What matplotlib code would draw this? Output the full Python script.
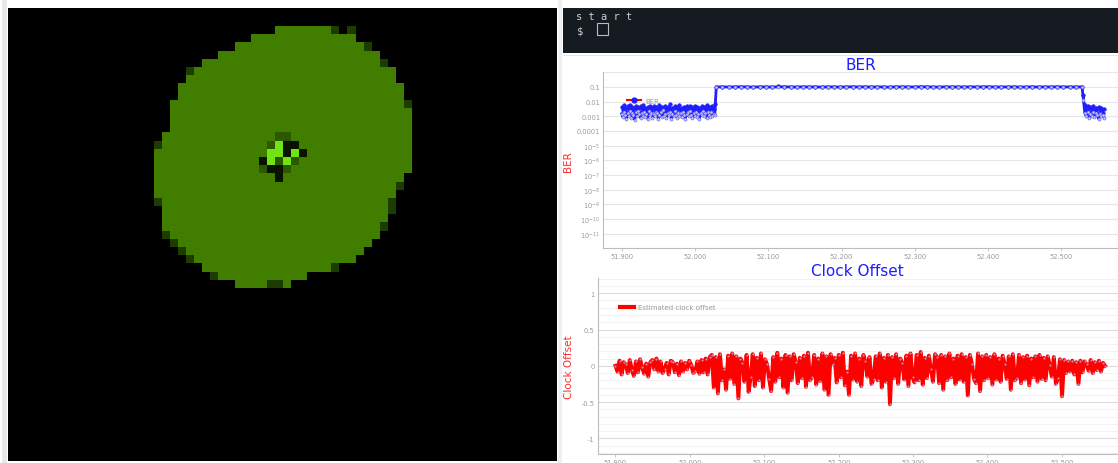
import numpy as np
import matplotlib
matplotlib.use('Agg')
import matplotlib.pyplot as plt
from matplotlib.patches import Rectangle
from matplotlib.lines import Line2D
from matplotlib.ticker import FixedLocator, FixedFormatter, MultipleLocator, NullLocator

plt.rcParams['axes.unicode_minus'] = False
W, H = 1118, 464

# ---- left panel: 32x32 pixel frame, green disk on black ----
# first and last lit column of every row, top to bottom
disk_rows = [(15, 21), (12, 24), (10, 26), (8, 27), (6, 28), (5, 29), (4, 29), (3, 30),
             (3, 30), (2, 30), (2, 31), (2, 31), (2, 31), (1, 31), (1, 31), (0, 31),
             (0, 31), (0, 31), (0, 30), (0, 30), (0, 29), (1, 29), (1, 29), (1, 28),
             (1, 28), (2, 27), (3, 26), (4, 25), (5, 24), (6, 22), (8, 18), (10, 16)]
# dim pixels on the rim (row, col)
rim_px = [(0, 22), (0, 24), (2, 26), (4, 28), (5, 4), (9, 31), (14, 0), (19, 30), (21, 0),
          (21, 29), (22, 29), (24, 28), (25, 1), (26, 2), (27, 3), (28, 4), (29, 22), (30, 7),
          (31, 14), (31, 15)]
# spot in the middle
core_bright = [(14, 15), (15, 14), (15, 15), (15, 17), (16, 14), (16, 16)]
core_black = [(14, 16), (14, 17), (15, 16), (15, 18), (16, 13), (17, 14), (17, 15), (18, 15)]
core_dim = [(13, 15), (13, 16), (14, 14), (16, 15), (16, 17), (17, 13), (17, 16)]

# ---- terminal strip ----
term_text = ['s t a r t', '$']

# ---- BER chart ----
# (start, end, number of samples) of the three stretches
ber_segments = [(51.900, 52.027, 80), (52.029, 52.528, 60), (52.530, 52.558, 16)]
ber_meas = [0.0042, 0.0026, 0.0055, 0.0019, 0.0038, 0.0047, 0.0023, 0.0061, 0.0031, 0.0044,
            0.0018, 0.0036, 0.0052, 0.0027, 0.0041, 0.0021, 0.0049, 0.0033, 0.0057, 0.0024,
            0.0039, 0.0016, 0.0045, 0.0029, 0.0053, 0.0022, 0.0037, 0.0048, 0.0025, 0.0042,
            0.0019, 0.0034, 0.0056, 0.0028, 0.0043, 0.0017, 0.0039, 0.0051, 0.0023, 0.0046,
            0.0031, 0.0064, 0.0021, 0.0038, 0.0027, 0.0049, 0.0018, 0.0042, 0.0033, 0.0055,
            0.0024, 0.0037, 0.0016, 0.0045, 0.0029, 0.0052, 0.0021, 0.0036, 0.0047, 0.0026,
            0.0041, 0.0019, 0.0054, 0.0032, 0.0044, 0.0022, 0.0038, 0.0017, 0.0049, 0.0028,
            0.0043, 0.0025, 0.0058, 0.0021, 0.0039, 0.0046, 0.0027, 0.0052, 0.0034, 0.0066,
            0.103, 0.101, 0.104, 0.102, 0.106, 0.101, 0.103, 0.102, 0.105, 0.101,
            0.108, 0.102, 0.104, 0.101, 0.105, 0.102, 0.103, 0.101, 0.104, 0.102,
            0.103, 0.105, 0.101, 0.104, 0.102, 0.106, 0.102, 0.103, 0.101, 0.104,
            0.102, 0.105, 0.101, 0.104, 0.103, 0.101, 0.105, 0.102, 0.103, 0.101,
            0.104, 0.102, 0.106, 0.101, 0.103, 0.102, 0.105, 0.101, 0.104, 0.101,
            0.103, 0.104, 0.102, 0.105, 0.101, 0.103, 0.102, 0.104, 0.101, 0.103,
            0.03, 0.006, 0.0024, 0.0048, 0.0019, 0.0041, 0.0027, 0.0052, 0.0021, 0.0038,
            0.0017, 0.0044, 0.0026, 0.0035, 0.0018, 0.0031]
ber_est = [0.0015, 0.0009, 0.0021, 0.0012, 0.0007, 0.0018, 0.0011, 0.0024, 0.0008, 0.0016,
           0.0013, 0.0006, 0.0019, 0.001, 0.0022, 0.0014, 0.0008, 0.0017, 0.0011, 0.002,
           0.0009, 0.0015, 0.0007, 0.0023, 0.0012, 0.0018, 0.0008, 0.0014, 0.001, 0.0021,
           0.0016, 0.0007, 0.0013, 0.0019, 0.0009, 0.0025, 0.0011, 0.0015, 0.0008, 0.0017,
           0.0012, 0.002, 0.0007, 0.0014, 0.001, 0.0022, 0.0013, 0.0008, 0.0018, 0.0011,
           0.0016, 0.0009, 0.0021, 0.0012, 0.0007, 0.0015, 0.0019, 0.001, 0.0024, 0.0013,
           0.0008, 0.0017, 0.0011, 0.002, 0.0009, 0.0014, 0.0007, 0.0018, 0.0012, 0.0022,
           0.001, 0.0016, 0.0008, 0.0019, 0.0013, 0.0009, 0.0021, 0.0011, 0.0015, 0.0012,
           0.1, 0.102, 0.099, 0.101, 0.103, 0.1, 0.098, 0.102, 0.101, 0.099,
           0.101, 0.103, 0.1, 0.099, 0.102, 0.1, 0.101, 0.098, 0.102, 0.1,
           0.099, 0.101, 0.103, 0.1, 0.102, 0.099, 0.101, 0.1, 0.098, 0.102,
           0.101, 0.099, 0.1, 0.103, 0.101, 0.1, 0.098, 0.102, 0.1, 0.101,
           0.099, 0.102, 0.1, 0.101, 0.103, 0.099, 0.1, 0.102, 0.101, 0.098,
           0.1, 0.102, 0.099, 0.101, 0.1, 0.103, 0.1, 0.101, 0.099, 0.102,
           0.012, 0.0016, 0.001, 0.0019, 0.0008, 0.0014, 0.0011, 0.0021, 0.0009, 0.0016,
           0.0012, 0.0007, 0.0015, 0.001, 0.0013, 0.0008]
ber_ticks = [1, 1e-1, 1e-2, 1e-3, 1e-4, 1e-5, 1e-6, 1e-7, 1e-8, 1e-9, 1e-10, 1e-11]
ber_tick_labels = ['', '0.1', '0.01', '0.001', '0.0001', r'$10^{-5}$', r'$10^{-6}$',
                   r'$10^{-7}$', r'$10^{-8}$', r'$10^{-9}$', r'$10^{-10}$', r'$10^{-11}$']

time_ticks = [51.9, 52.0, 52.1, 52.2, 52.3, 52.4, 52.5]
time_labels = ['51.900', '52.000', '52.100', '52.200', '52.300', '52.400', '52.500']

# ---- clock offset chart ----
clock_span = (51.900, 52.558)
clock_offset = [
    0.0, -0.08, 0.07, -0.12, 0.05, 0.02, -0.1, 0.08, -0.06, -0.14,
    0.06, -0.09, 0.09, -0.02, -0.11, 0.03, -0.15, 0.05, 0.08, -0.05,
    0.1, -0.08, 0.06, -0.1, -0.04, 0.04, -0.12, 0.07, 0.05, -0.09,
    0.03, -0.13, 0.06, -0.08, 0.04, -0.05, 0.07, 0.01, -0.1, -0.07,
    0.06, -0.11, 0.08, -0.09, 0.1, -0.12, 0.12,
    0.15, -0.3, 0.12, -0.38, 0.16, -0.2, -0.05, -0.33, 0.14, -0.18,
    0.17, -0.25, 0.13, -0.45, 0.1, 0.04, -0.22, 0.15, -0.36, -0.15,
    0.16, -0.28, 0.11, -0.2, 0.17, -0.3, 0.09, 0.02, -0.18, -0.35,
    0.12, -0.22, 0.18, -0.16, 0.1, -0.3, 0.15, -0.37, 0.13, -0.2,
    0.16, 0.05, -0.24, 0.11, -0.17, 0.14, -0.29, 0.18, -0.2, -0.15,
    0.15, -0.26, 0.1, -0.21, 0.17, -0.33, 0.13, -0.4, 0.16, 0.03,
    0.11, -0.23, 0.15, -0.16, 0.18, -0.27, -0.08, -0.4, 0.14, -0.19,
    0.17, -0.22, 0.1, -0.28, 0.15, 0.06, -0.15, 0.12, -0.25, -0.18,
    0.13, -0.2, 0.17, -0.3, 0.11, -0.22, 0.15, -0.53, 0.12, -0.17,
    0.16, -0.25, 0.1, 0.04, -0.19, 0.14, -0.28, 0.17, -0.16, -0.23,
    0.15, -0.2, 0.19, -0.26, 0.11, -0.17, 0.14, -0.05, -0.22, 0.16,
    0.12, -0.24, 0.15, -0.33, 0.13, -0.2, 0.17, -0.16, 0.1, -0.25,
    0.14, -0.19, 0.16, -0.22, 0.12, -0.41, 0.15, 0.03, -0.18, -0.24,
    0.17, -0.35, 0.13, -0.2, 0.15, -0.17, 0.12, -0.26, 0.16, -0.19,
    0.1, -0.22, 0.14, 0.02, -0.18, 0.13, -0.33, 0.16, -0.2, -0.17,
    0.15, -0.24, 0.12, -0.19, 0.14, -0.27, 0.1, -0.16, 0.13, -0.22,
    0.15, -0.18, 0.11, -0.2, 0.13, 0.01, -0.15, 0.12, -0.25, -0.17, 0.09,
    -0.42, 0.08, -0.1, 0.06, -0.08, 0.07, -0.12, 0.05, -0.25, 0.07,
    -0.09, 0.06, 0.02, -0.07, 0.08, -0.1, 0.05, -0.06, 0.07, -0.08, 0.04, 0.0]

GREY = '#9a9a9a'
BLUE = '#1e1eff'
RED = '#ff2a2a'


def fig_rect(x0, y0, x1, y1, color):
    """rectangle given in screen pixels (origin top-left)"""
    fig.add_artist(Rectangle((x0 / W, 1 - y1 / H), (x1 - x0) / W, (y1 - y0) / H,
                             transform=fig.transFigure, color=color, lw=0))


def style_axes(ax):
    for side in ('top', 'right'):
        ax.spines[side].set_visible(False)
    for side in ('left', 'bottom'):
        ax.spines[side].set_color('#bdbdbd')
        ax.spines[side].set_linewidth(0.8)
    ax.tick_params(axis='y', which='both', length=0, pad=2.2, labelsize=4.8, labelcolor=GREY)
    ax.tick_params(axis='x', length=2, width=0.6, color='#bdbdbd', pad=1.2,
                   labelsize=4.8, labelcolor=GREY)
    ax.xaxis.set_major_locator(FixedLocator(time_ticks))
    ax.xaxis.set_major_formatter(FixedFormatter(time_labels))


fig = plt.figure(figsize=(W / 100, H / 100), dpi=100)
fig.patch.set_facecolor('white')

# thin grey borders of the page
fig_rect(2, 0, 7, H, '#e8e8e8')
fig_rect(558, 0, 562, H, '#efefef')

# ---- left image ----
img = np.zeros((len(disk_rows), 32, 3))
for r, (c0, c1) in enumerate(disk_rows):
    img[r, c0:c1 + 1] = (0x41 / 255, 0x7e / 255, 0.0)
for r, c in rim_px:
    img[r, c] = (0x1c / 255, 0x3c / 255, 0.0)
for r, c in core_dim:
    img[r, c] = (0x2c / 255, 0x58 / 255, 0.0)
for r, c in core_black:
    img[r, c] = (0x08 / 255, 0x14 / 255, 0.0)
for r, c in core_bright:
    img[r, c] = (0x70 / 255, 0xe4 / 255, 0x14 / 255)

ax_img = fig.add_axes([8 / W, 1 - 461.5 / H, 549 / W, 452.5 / H])
ax_img.set_facecolor('black')
ax_img.set_xlim(0, 549)
ax_img.set_ylim(452.5, 0)
ax_img.set_xticks([])
ax_img.set_yticks([])
for s in ax_img.spines.values():
    s.set_visible(False)
cell_w, cell_h = 8.04, 8.17
x0, y0 = 146.4, 19.0
ax_img.imshow(img, extent=(x0, x0 + 32 * cell_w, y0 + len(disk_rows) * cell_h, y0),
              interpolation='nearest', aspect='auto')

# ---- terminal ----
fig_rect(563, 9, W, 54.3, '#151b21')
fig_rect(563, 55.5, W, 56.5, '#e6e6e6')
fig.text(576 / W, 1 - 19.5 / H, term_text[0], family='DejaVu Sans Mono', fontsize=7.5,
         color='#cfcfcf', va='baseline')
fig.text(577 / W, 1 - 34 / H, term_text[1], family='DejaVu Sans Mono', fontsize=7.5,
         color='#cfcfcf', va='baseline')
fig.add_artist(Rectangle((597 / W, 1 - 36 / H), 11 / W, 12 / H, transform=fig.transFigure,
                         fill=False, ec='#bcbcbc', lw=0.8))

# ---- BER ----
ber_t = np.concatenate([np.linspace(a, b, n) for a, b, n in ber_segments])
ax1 = fig.add_axes([603.3 / W, 1 - 249.3 / H, (W - 603.3) / W, 176 / H])
ax1.set_yscale('log')
ax1.set_ylim(1e-12, 1)
ax1.set_xlim(51.8749, 51.9 + (W - 621.7) / 733)
style_axes(ax1)
ax1.yaxis.set_major_locator(FixedLocator(ber_ticks))
ax1.yaxis.set_major_formatter(FixedFormatter(ber_tick_labels))
ax1.yaxis.set_minor_locator(NullLocator())
ax1.grid(axis='y', color='#e6e6e6', lw=0.8)
ax1.set_axisbelow(True)

ax1.plot(ber_t, ber_meas, color='red', lw=0.8, marker='o', ms=2.6, mfc=BLUE, mec=BLUE,
         mew=0.4, zorder=3)
ax1.plot(ber_t, ber_est, color=BLUE, lw=2.0, zorder=4)
ax1.plot(ber_t, ber_est, ls='none', marker='o', ms=2.2, mfc='#c8c8dc', mec='#5a5aff',
         mew=0.4, zorder=5)
ax1.plot(ber_t[:80], ber_meas[:80], color=BLUE, lw=1.0, zorder=4)
ax1.plot(ber_t[-16:], ber_meas[-16:], color=BLUE, lw=1.0, zorder=4)

handles = [Line2D([], [], color='red', lw=1.5, marker='o', ms=3.5, mfc=BLUE, mec=BLUE),
           Line2D([], [], color=BLUE, lw=1.5)]
leg1 = ax1.legend(handles, ['BER', 'Estimated BER'], loc='upper left',
                  bbox_to_anchor=(0.046, 0.855), frameon=False, fontsize=5, labelcolor=GREY,
                  handlelength=2.0, handletextpad=0.6, labelspacing=0.75, borderpad=0,
                  borderaxespad=0)
leg1.set_zorder(2)

ax1.set_title('BER', color=BLUE, fontsize=11, pad=2)
ax1.set_ylabel('BER', color=RED, fontsize=7.5)
ax1.yaxis.set_label_coords(-0.058, 0.5)

# ---- clock offset ----
clock_t = np.linspace(clock_span[0], clock_span[1], len(clock_offset))
ax2 = fig.add_axes([597.7 / W, 1 - 455.3 / H, (W - 597.7) / W, 176.3 / H])
ax2.set_ylim(-1.22, 1.21)
ax2.set_xlim(51.8761, 51.9 + (W - 615.5) / 744)
style_axes(ax2)
ax2.yaxis.set_major_locator(MultipleLocator(0.5))
ax2.yaxis.set_minor_locator(MultipleLocator(0.1))
ax2.yaxis.set_major_formatter(plt.FuncFormatter(lambda v, p: f'{v:g}'))
ax2.grid(axis='y', which='major', color='#dcdcdc', lw=0.8)
ax2.grid(axis='y', which='minor', color='#f0f0f0', lw=0.6)
ax2.set_axisbelow(True)

ax2.plot(clock_t, clock_offset, color='red', lw=2.8, zorder=3)
ax2.plot(clock_t, clock_offset, ls='none', marker='.', ms=1.0, color='#b8a8d8', zorder=4)

leg2 = ax2.legend([Line2D([], [], color='red', lw=3)], ['Estimated clock offset'],
                  loc='upper left', bbox_to_anchor=(0.043, 0.85), frameon=False, fontsize=5,
                  labelcolor=GREY, handlelength=2.0, handletextpad=0.6, borderpad=0,
                  borderaxespad=0)

ax2.set_title('Clock Offset', color=BLUE, fontsize=11, pad=1.5)
ax2.set_ylabel('Clock Offset', color=RED, fontsize=7.5)
ax2.yaxis.set_label_coords(-0.0455, 0.5)

fig.savefig('out.png', dpi=100)
